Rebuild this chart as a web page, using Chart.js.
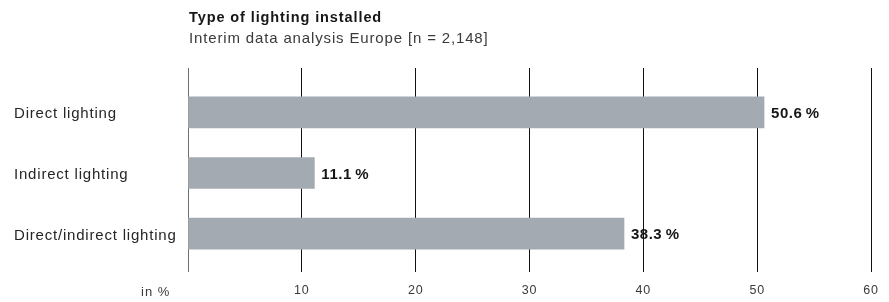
<!DOCTYPE html>
<html><head><meta charset="utf-8">
<script src="https://cdn.jsdelivr.net/npm/chart.js@4/dist/chart.umd.min.js"></script>
<style>html,body{margin:0;padding:0;background:#fff}#wrap{width:889px;height:302px;position:relative}</style>
</head><body><div id="wrap"><canvas id="c" width="889" height="302"></canvas></div>
<script>
const categories = ['Direct lighting', 'Indirect lighting', 'Direct/indirect lighting'];
const shares = [50.6, 11.1, 38.3];
const valueLabels = ['50.6\u2009%', '11.1\u2009%', '38.3\u2009%'];
const xTicks = [0, 10, 20, 30, 40, 50, 60];
const titleText = 'Type of lighting installed';
const subtitleText = 'Interim data analysis Europe [n = 2,148]';
const axisUnit = 'in %';

const FONT = '"Liberation Sans", Arial, Helvetica, sans-serif';
const gridColor = c => (c.tick && c.tick.value === 0) ? '#6e6e6e' : '#111111';
const setTicks = s => { s.ticks = xTicks.map(v => ({ value: v })); };

const decor = {
  id: 'decor',
  beforeDraw(chart) { chart.ctx.letterSpacing = '0.8px'; },
  afterDraw(chart) {
    const ctx = chart.ctx;
    ctx.save();
    ctx.textBaseline = 'alphabetic';
    ctx.textAlign = 'left';
    ctx.fillStyle = '#161616';
    ctx.letterSpacing = '0.9px';
    ctx.font = 'bold 14.5px ' + FONT;
    ctx.fillText(titleText, 189, 22);
    ctx.letterSpacing = '0.85px';
    ctx.fillStyle = '#3a3a3a';
    ctx.font = '15px ' + FONT;
    ctx.fillText(subtitleText, 189, 42.5);
    ctx.letterSpacing = '1px';
    ctx.fillStyle = '#3a3a3a';
    ctx.font = '13px ' + FONT;
    ctx.fillText(axisUnit, 141, 295.5);
    const meta = chart.getDatasetMeta(0);
    ctx.fillStyle = '#161616';
    ctx.font = 'bold 15px ' + FONT;
    ctx.letterSpacing = '0.5px';
    meta.data.forEach((bar, i) => {
      ctx.fillText(valueLabels[i], bar.x + 7, bar.y + 5.5);
    });
    ctx.restore();
  }
};

new Chart(document.getElementById('c'), {
  type: 'bar',
  data: {
    labels: categories,
    datasets: [{
      data: shares,
      backgroundColor: '#a3aab1',
      borderWidth: 0,
      barThickness: 31
    }]
  },
  options: {
    indexAxis: 'y',
    responsive: false,
    devicePixelRatio: 1,
    animation: false,
    layout: { padding: { left: 14, right: 16, top: 68, bottom: 0 } },
    plugins: { legend: { display: false }, tooltip: { enabled: false }, title: { display: false } },
    scales: {
      y: {
        type: 'category',
        grid: { display: false },
        border: { display: false },
        ticks: {
          color: '#262626',
          font: { family: FONT, size: 15 },
          crossAlign: 'far',
          padding: 0,
          labelOffset: 2
        },
        afterFit: s => { s.width = 174; }
      },
      x: {
        type: 'linear',
        position: 'bottom',
        min: 0, max: 60,
        afterBuildTicks: setTicks,
        grid: { color: gridColor, lineWidth: 1, tickLength: 8, drawTicks: true },
        border: { display: false },
        ticks: {
          autoSkip: false,
          maxRotation: 0,
          color: '#3a3a3a',
          font: { family: FONT, size: 12.5 },
          padding: 11,
          callback: v => (v === 0 ? '' : String(v))
        },
        afterFit: s => { s.height = 38; }
      },
      x2: {
        type: 'linear',
        position: 'top',
        min: 0, max: 60,
        afterBuildTicks: setTicks,
        grid: { color: gridColor, lineWidth: 1, tickLength: 14, drawTicks: true, drawOnChartArea: false },
        border: { display: false },
        ticks: { display: false },
        afterFit: s => { s.height = 14; }
      }
    }
  },
  plugins: [decor]
});
</script>
</body></html>
